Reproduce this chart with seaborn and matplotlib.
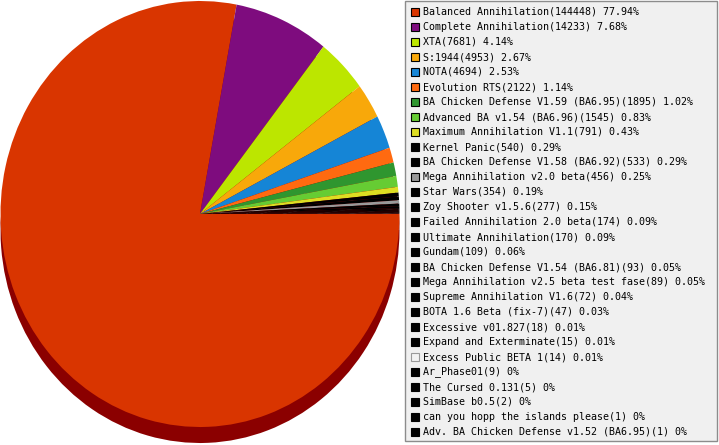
import matplotlib
matplotlib.use("Agg")
import matplotlib.pyplot as plt
from matplotlib.patches import Rectangle
import seaborn as sns

sns.set_style("white")

names = [
    "Balanced Annihilation", "Complete Annihilation", "XTA", "S:1944", "NOTA",
    "Evolution RTS", "BA Chicken Defense V1.59 (BA6.95)", "Advanced BA v1.54 (BA6.96)",
    "Maximum Annihilation V1.1", "Kernel Panic", "BA Chicken Defense V1.58 (BA6.92)",
    "Mega Annihilation v2.0 beta", "Star Wars", "Zoy Shooter v1.5.6",
    "Failed Annihilation 2.0 beta", "Ultimate Annihilation", "Gundam",
    "BA Chicken Defense V1.54 (BA6.81)", "Mega Annihilation v2.5 beta test fase",
    "Supreme Annihilation V1.6", "BOTA 1.6 Beta (fix-7)", "Excessive v01.827",
    "Expand and Exterminate", "Excess Public BETA 1", "Ar_Phase01", "The Cursed 0.131",
    "SimBase b0.5", "can you hopp the islands please",
    "Adv. BA Chicken Defense v1.52 (BA6.95)",
]
counts = [144448, 14233, 7681, 4953, 4694, 2122, 1895, 1545, 791, 540, 533, 456,
          354, 277, 174, 170, 109, 93, 89, 72, 47, 18, 15, 14, 9, 5, 2, 1, 1]
percents = ["77.94", "7.68", "4.14", "2.67", "2.53", "1.14", "1.02", "0.83", "0.43",
            "0.29", "0.29", "0.25", "0.19", "0.15", "0.09", "0.09", "0.06", "0.05",
            "0.05", "0.04", "0.03", "0.01", "0.01", "0.01", "0", "0", "0", "0", "0"]
colors = ["#D93500", "#7E0C7E", "#BCE600", "#F8A80A", "#1585D6", "#FF6A10",
          "#2F962F", "#66CC33", "#DDDD22", "#000000", "#000000", "#999999",
          "#000000", "#000000", "#000000", "#000000", "#000000", "#000000",
          "#000000", "#000000", "#000000", "#000000", "#000000", "#F2F2F2",
          "#000000", "#000000", "#000000", "#000000", "#000000"]
shadow_color = "#8B0000"

W, H = 719, 445
fig = plt.figure(figsize=(W / 100, H / 100), dpi=100)
fig.patch.set_facecolor("white")

# pie axes: x 0.5..399.5 px, y 1..443 px (top-based)
left_px, right_px = 0.5, 399.5
top_px, bot_px = 1.0, 443.0
ry = 213.0
ax = fig.add_axes([left_px / W, 1 - bot_px / H, (right_px - left_px) / W, (bot_px - top_px) / H])
depth = 16.0 / ry
ax.pie(counts, colors=[shadow_color] * len(counts), startangle=0, counterclock=False,
       center=(0, -depth), radius=1, wedgeprops=dict(linewidth=0), frame=False)
ax.pie(counts, colors=colors, startangle=0, counterclock=False,
       center=(0, 0), radius=1, wedgeprops=dict(linewidth=0), frame=False)
ax.set_aspect("auto")
ax.set_xlim(-1, 1)
ax.set_ylim(-1 - (bot_px - top_px - 2 * ry) / ry, 1)
ax.axis("off")

# overlay in pixel coordinates for the legend
lax = fig.add_axes([0, 0, 1, 1])
lax.set_xlim(0, W)
lax.set_ylim(H, 0)
lax.axis("off")
lax.add_patch(Rectangle((405, 1), 312, 440, facecolor="#F0F0F0", edgecolor="#8C8C8C", linewidth=1))
for i, (n, c, p, col) in enumerate(zip(names, counts, percents, colors)):
    y = 12 + 15 * i
    ec = "#999999" if col.upper() == "#F2F2F2" else "#000000"
    lax.add_patch(Rectangle((410.5, y - 4), 8, 8, facecolor=col, edgecolor=ec, linewidth=0.8))
    lax.text(423, y, f"{n}({c}) {p}%", fontsize=7.2, family="DejaVu Sans Mono",
             va="center", ha="left", color="black")

fig.savefig("out.png", dpi=100)
